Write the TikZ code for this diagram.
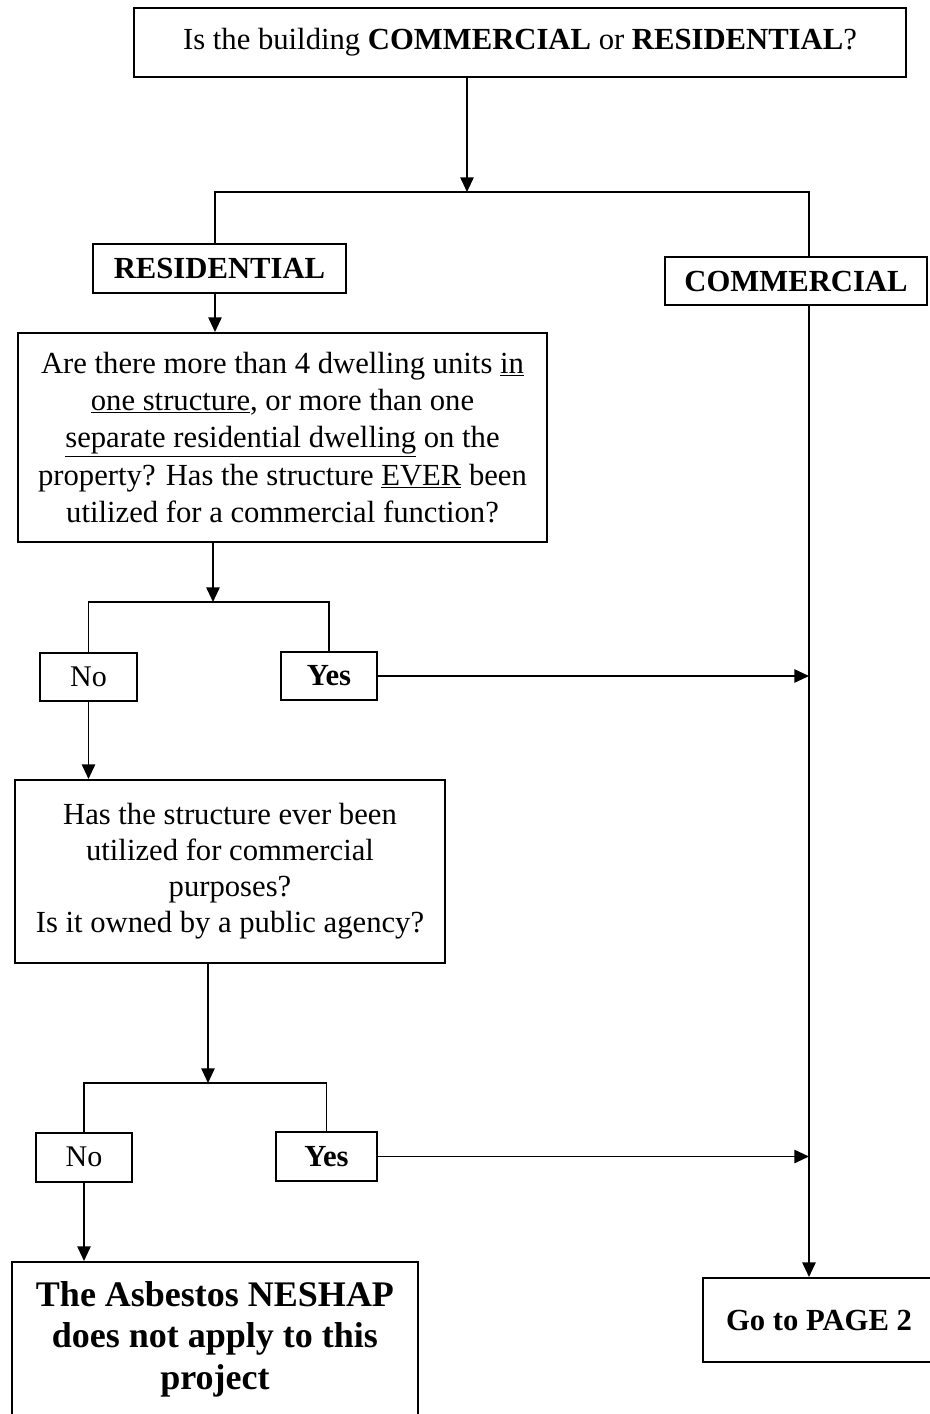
\documentclass[tikz,border=0pt]{standalone}
\usepackage{fontspec}
\setmainfont{Liberation Serif}
\usetikzlibrary{arrows.meta}
\newcommand{\pxl}[1]{#1*0.75pt}
\begin{document}
\begin{tikzpicture}[x=0.75pt,y=-0.75pt,
  box/.style={draw, line width=1.5pt, inner sep=0pt, align=center, font=\fontsize{23}{28}\selectfont},
  conn/.style={line width=1.3pt},
  arr/.style={conn, -{Triangle[length=11pt,width=10pt]}}]
\useasboundingbox (0,0) rectangle (930,1414);
% nodes
\node[box, minimum width=\pxl{772}, minimum height=\pxl{69}] (top) at (520,42.5)
  {Is the building \textbf{COMMERCIAL} or \textbf{RESIDENTIAL}?};
\node[box, minimum width=\pxl{253}, minimum height=\pxl{49}, font=\fontsize{23}{28}\selectfont\bfseries] (res) at (219.5,268.5) {RESIDENTIAL};
\node[box, minimum width=\pxl{262}, minimum height=\pxl{48}, font=\fontsize{23}{28}\selectfont\bfseries] (com) at (796,281) {COMMERCIAL};
\node[box, minimum width=\pxl{529}, minimum height=\pxl{209}] (q1) at (282.5,437.5)
  {Are there more than 4 dwelling units \underline{in}\\
   \underline{one structure}, or more than one\\
   \underline{separate residential dwelling} on the\\
   property? Has the structure \underline{EVER} been\\
   utilized for a commercial function?};
\node[box, minimum width=\pxl{97}, minimum height=\pxl{48}, font=\fontsize{22.5}{26}\selectfont] (no1) at (88.5,677) {No};
\node[box, minimum width=\pxl{96}, minimum height=\pxl{48}, font=\fontsize{23}{28}\selectfont\bfseries] (yes1) at (329,676) {Yes};
\node[box, minimum width=\pxl{430}, minimum height=\pxl{183}, font=\fontsize{23}{27}\selectfont] (q2) at (230,871.5)
  {Has the structure ever been\\
   utilized for commercial\\
   purposes?\\
   Is it owned by a public agency?};
\node[box, minimum width=\pxl{96}, minimum height=\pxl{49}, font=\fontsize{22.5}{26}\selectfont] (no2) at (84,1157) {No};
\node[box, minimum width=\pxl{101}, minimum height=\pxl{49}, font=\fontsize{23}{28}\selectfont\bfseries] (yes2) at (326.5,1156.5) {Yes};
\node[box, minimum width=\pxl{406}, minimum height=\pxl{154}, font=\fontsize{27}{31}\selectfont\bfseries] (fin) at (215,1339)
  {The Asbestos NESHAP\\ does not apply to this\\ project};
\node[box, minimum width=\pxl{232}, minimum height=\pxl{84}, font=\fontsize{23}{28}\selectfont\bfseries] (go2) at (819,1320) {Go to PAGE 2};
% junctions
\coordinate (j1) at (467,192);
\coordinate (jl) at (215,192);
\coordinate (jr) at (809,192);
\coordinate (j2) at (213,602);
\coordinate (j3) at (208,1083);
% connectors
\draw[arr] (top.south -| j1) -- (j1);
\draw[conn] (jl |- res.north) -- (jl) -- (jr) -- (jr |- com.north);
\draw[arr] (res.south -| jl) -- (jl |- q1.north);
\draw[arr] (q1.south -| j2) -- (j2);
\draw[conn] (no1.north) |- (j2) -| (yes1.north);
\draw[arr] (yes1.east) -- (yes1.east -| jr);
\draw[arr] (no1.south) -- (no1.south |- q2.north);
\draw[arr] (q2.south -| j3) -- (j3);
\draw[conn] (no2.north) |- (j3) -| (yes2.north);
\draw[arr] (yes2.east) -- (yes2.east -| jr);
\draw[arr] (no2.south) -- (no2.south |- fin.north);
\draw[arr] (com.south -| jr) -- (jr |- go2.north);
\end{tikzpicture}
\end{document}
